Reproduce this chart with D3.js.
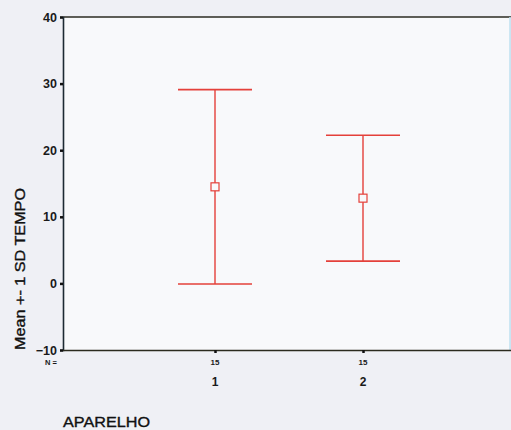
<!DOCTYPE html>
<html><head><meta charset="utf-8">
<script src="https://cdn.jsdelivr.net/npm/d3@7/dist/d3.min.js"></script>
<style>html,body{margin:0;padding:0;background:#eff0f5;}svg{display:block;}</style>
</head><body>
<script>
const categories = ["1", "2"];
const nValues = [15, 15];
const means = [14.5, 12.8];
const sds = [14.6, 9.45];
const yTicks = [-10, 0, 10, 20, 30, 40];
const yTitle = "Mean +- 1 SD TEMPO";
const xTitle = "APARELHO";

(function () {
const W = 511, H = 430;
const FONT = "Liberation Sans, Arial, sans-serif";
const svg = d3.select("body").append("svg").attr("width", W).attr("height", H);
const pL = 63, pT = 17, pB = 350, pR = 510;
const y = d3.scaleLinear().domain([-10, 40]).range([pB, pT]);
const x = d3.scalePoint().domain(categories).range([215, 363]);

// plot background
svg.append("rect").attr("x", pL).attr("y", pT).attr("width", pR - pL).attr("height", pB - pT)
  .attr("fill", "#f8f9fb");
// frame
svg.append("line").attr("x1", pL).attr("x2", W).attr("y1", pT).attr("y2", pT).attr("stroke", "#2b2b22").attr("stroke-width", 1.5);
svg.append("line").attr("x1", pR).attr("x2", pR).attr("y1", pT).attr("y2", pB).attr("stroke", "#bfe0f0").attr("stroke-width", 1.5);

// y axis
const ya = svg.append("g").attr("transform", `translate(${pL},0)`)
  .call(d3.axisLeft(y).tickValues(yTicks).tickSize(3).tickPadding(3));
ya.select(".domain").attr("stroke", "#1d2a33").attr("stroke-width", 1.6);
ya.selectAll(".tick line").attr("stroke", "#111").attr("stroke-width", 2.5);
ya.selectAll(".tick text").attr("font-family", FONT)
  .attr("font-size", 12.5).attr("font-weight", "bold").attr("fill", "#1a1a1a");

// x axis
const xa = svg.append("g").attr("transform", `translate(0,${pB})`)
  .call(d3.axisBottom(x).tickSize(3).tickFormat(""));
xa.select(".domain").attr("d", `M${pL},0.5H${W}`).attr("stroke", "#2b2b1e").attr("stroke-width", 1.6);
xa.selectAll(".tick line").attr("stroke", "#111").attr("stroke-width", 2.5);

// N labels
svg.append("text").attr("x", 57).attr("y", 365).attr("text-anchor", "end")
  .attr("font-family", FONT).attr("font-size", 7.5).attr("font-weight", "bold")
  .attr("fill", "#1a1a1a").text("N =");
svg.selectAll(".nlab").data(categories).enter().append("text")
  .attr("x", d => x(d)).attr("y", 365).attr("text-anchor", "middle")
  .attr("font-family", FONT).attr("font-size", 8).attr("font-weight", "bold")
  .attr("fill", "#1a1a1a").text((d, i) => nValues[i]);
svg.selectAll(".clab").data(categories).enter().append("text")
  .attr("x", d => x(d)).attr("y", 386).attr("text-anchor", "middle")
  .attr("font-family", FONT).attr("font-size", 12).attr("font-weight", "bold")
  .attr("fill", "#1a1a1a").text(d => d);

// titles
svg.append("text").attr("transform", `translate(25,269) rotate(-90)`).attr("text-anchor", "middle")
  .attr("font-family", FONT).attr("font-size", 14)
  .attr("textLength", 162).attr("lengthAdjust", "spacingAndGlyphs")
  .attr("fill", "#111").attr("stroke", "#111").attr("stroke-width", 0.35).text(yTitle);
svg.append("text").attr("x", 63).attr("y", 427)
  .attr("font-family", FONT).attr("font-size", 14.5)
  .attr("textLength", 87).attr("lengthAdjust", "spacingAndGlyphs")
  .attr("fill", "#111").attr("stroke", "#111").attr("stroke-width", 0.35).text(xTitle);

// error bars
const red = "#e4403a", capHalf = 37;
const g = svg.selectAll(".eb").data(categories).enter().append("g");
g.append("line").attr("x1", d => x(d)).attr("x2", d => x(d))
  .attr("y1", (d, i) => y(means[i] + sds[i])).attr("y2", (d, i) => y(means[i] - sds[i]))
  .attr("stroke", red).attr("stroke-width", 1.4);
g.append("line").attr("x1", d => x(d) - capHalf).attr("x2", d => x(d) + capHalf)
  .attr("y1", (d, i) => y(means[i] + sds[i])).attr("y2", (d, i) => y(means[i] + sds[i]))
  .attr("stroke", red).attr("stroke-width", 1.6);
g.append("line").attr("x1", d => x(d) - capHalf).attr("x2", d => x(d) + capHalf)
  .attr("y1", (d, i) => y(means[i] - sds[i])).attr("y2", (d, i) => y(means[i] - sds[i]))
  .attr("stroke", red).attr("stroke-width", 1.6);
g.append("rect").attr("x", d => x(d) - 4).attr("y", (d, i) => y(means[i]) - 4)
  .attr("width", 8).attr("height", 8).attr("fill", "#f8f9fb")
  .attr("stroke", red).attr("stroke-width", 1.2);
})();
</script>
</body></html>
